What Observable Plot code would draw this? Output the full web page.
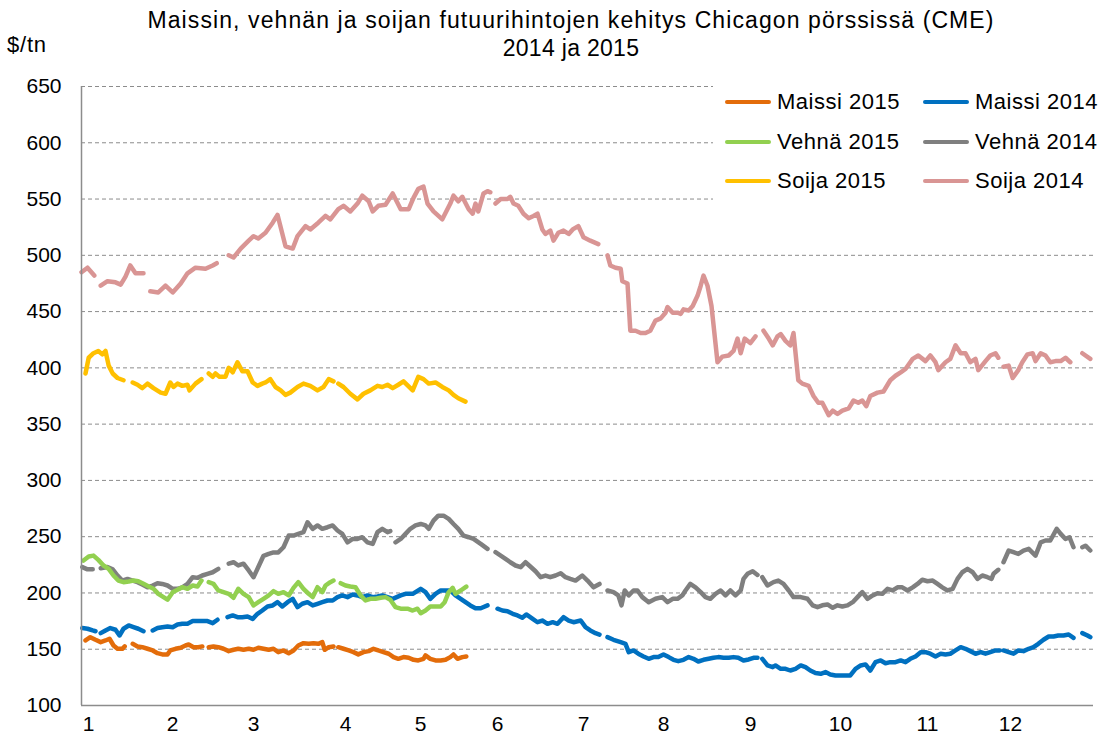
<!DOCTYPE html>
<html>
<head>
<meta charset="utf-8">
<script src="https://cdn.jsdelivr.net/npm/d3@7"></script>
<script src="https://cdn.jsdelivr.net/npm/@observablehq/plot@0.6"></script>
<style>
  html, body { margin: 0; padding: 0; background: #fff; overflow: hidden; }
  #wrap { position: relative; width: 1099px; height: 743px; font-family: "Liberation Sans", Arial, sans-serif; color: #000; }
  #title { position: absolute; left: 43px; width: 1056px; top: 6px; text-align: center; font-size: 23px; line-height: 28px; }
  #title .l1 { letter-spacing: 1.1px; }
  #title .l2 { letter-spacing: 0.3px; }
  #unit { position: absolute; left: 7px; top: 32px; font-size: 22px; letter-spacing: 0.8px; }
  #legend { position: absolute; left: 713px; top: 84px; width: 384px; height: 120px; background: #fff; }
  .item { position: absolute; font-size: 22px; line-height: 24px; white-space: nowrap; letter-spacing: 0.5px; }
  .item span.sw { display: inline-block; width: 46px; height: 4px; border-radius: 2px; vertical-align: middle; margin-right: 6px; position: relative; top: -1px; }
</style>
</head>
<body>
<div id="wrap">
  <div id="chart"></div>
  <div id="title"><span class="l1">Maissin, vehnän ja soijan futuurihintojen kehitys Chicagon pörssissä (CME)</span><br><span class="l2">2014 ja 2015</span></div>
  <div id="unit">$/tn</div>
  <div id="legend"></div>
</div>
<script>
// x = trading-day index within the year, y = $/tn
const monthTicks = [1.75, 22.75, 43, 66, 84.75, 104, 125.5, 145.5, 167.25, 189.75, 211.5, 232.25];
const monthLabels = ["1","2","3","4","5","6","7","8","9","10","11","12"];
const yTicks = [100,150,200,250,300,350,400,450,500,550,600,650];

const seriesNames = ["Maissi 2015","Maissi 2014","Vehnä 2015","Vehnä 2014","Soija 2015","Soija 2014"];
const seriesColors = ["#E36C0A","#0070C0","#92D050","#7F7F7F","#FFC000","#D99594"];

const soija2014 = [[0,485],[1.5,489],[3.2,482],null,[4.8,473],[6.5,477],[8.5,476],[9.8,474],[11,481],[12.2,491],[13.5,484],[15.5,484],null,
[17.2,468],[19.2,467],[21,473],[22.8,467],[24.8,475],[26.5,484],[28.5,489],[31,488],[32.8,491],[33.8,493],null,
[36.8,500],[38,498],[39.8,506],[41.8,513],[43,517],[44.2,515],[46,520],[47.8,529],[49,536],[51,508],[52.8,506],[54,517],[56,526],[57.2,523],[59.2,529],[61,535],[62.2,532],[64.2,541],[65.5,544],[67.2,539],[69,546],[70.2,553],[71.8,548],[72.8,539],[74.2,544],[76,545],[77.8,555],[79.8,541],[81.8,541],[83,551],[84.2,559],[85.5,561],[86.5,546],[88,539],[90.2,532],[92.2,546],[93,553],[94.2,548],[95.2,552],[96.8,541],[97.8,537],[98.5,546],[99.2,539],[100.5,555],[101.5,557],[102.2,556],null,
[103.5,546],[104.8,550],[106.5,550],[107.2,552],[108,546],[109.2,544],[110.5,537],[111.8,533],[113,535],[114,537],[115.2,523],[116,519],[117.2,522],[118,513],[119.2,520],[120.5,522],[121.8,519],[122.8,523],[124.2,526],[125.5,516],[127.2,513],[129.2,510],null,
[131.5,500],[132.2,491],[133.5,489],[134.8,488],[135.2,477],[136.5,475],[137.2,433],[138.5,433],[139.8,431],[141,431],[142.2,433],[143.5,442],[144.8,444],[146,449],[146.5,454],[147.8,449],[149,449],[149.8,448],[150.5,452],[151.8,451],[152.8,455],[154,464],[154.8,473],[155.5,482],[156.5,473],[157.5,455],[159,405],[160.2,410],[161.8,411],[163,415],[164,426],[164.8,413],[165.8,426],[167.2,422],[168.5,428],null,
[170.5,433],[171.8,426],[172.8,420],[174,428],[174.8,430],[176,424],[177.2,420],[178,431],[179.2,389],[180.2,386],[181.8,384],[183,375],[184.2,369],[185.2,369],[186.8,358],[187.8,362],[189,359],[190.2,362],[191.8,364],[193,371],[194.2,369],[195.2,371],[196.2,366],[197.2,375],[199,378],[200.5,379],[202.2,389],[203.5,393],[204.8,396],[206,399],[207.8,408],[209.2,411],[211,406],[212.2,411],[213.5,405],[214.2,398],[216,405],[217.2,408],[218.5,420],[219.8,413],[221,413],[222.2,405],[223.5,408],[224.2,398],[226,406],[227.2,411],[228.5,413],[229.2,409],null,
[230.5,401],[231.8,402],[232.8,391],[234.2,398],[235.2,405],[236.5,412],[237.8,413],[238.5,406],[239.8,413],[241,411],[242.2,405],[243.5,406],[244.8,406],[246,409],[247.2,405],null,
[250.2,413],[252.2,408]];

const soija2015 = [[1,395],[1.8,409],[3,413],[4.2,415],[5.2,412],[6,415],[6.8,402],[7.8,395],[9,391],[10.5,389],null,
[12.8,387],[14,385],[15.2,382],[16.5,386],[18,382],[19.8,378],[21,377],[22.2,387],[23,383],[24,386],[25.2,384],[26.5,385],[27,380],[28.5,386],[30,390],null,
[31.8,395],[32.8,392],[33.5,395],[34.5,392],[36,392],[36.8,400],[37.8,396],[39,405],[40.2,397],[41.5,397],[42.8,387],[44,384],[45.2,386],[46,387],[47.2,390],[48.5,383],[49.8,380],[51,376],[52.2,378],[54,383],[55.5,386],[57.2,384],[59,380],[60.5,383],[61.8,390],[63,388],null,
[64.2,386],[65.5,383],[67.2,377],[69,372],[70.5,377],[72.2,380],[74,384],[75.2,383],[76.5,385],[77.8,382],[79.2,385],[80.5,388],[82.8,380],[84.2,392],[85.5,390],[86.8,386],[88.5,387],[90.2,383],[91.8,380],[93,376],[94.2,373],[96,370]];

const vehna2014 = [[0.2,223],[1.5,221],[2.8,221],null,[4.8,222],[6.5,223],[7.8,221],[9,215.5],[10.2,211],[11.5,212.5],[12.8,211],[14,209.6],[15.2,207.5],[16.5,205],[17.8,206.6],[19,208.7],[20.2,208],[21.5,206.6],[22.8,203.7],[24,203.7],[25.2,205],[26.5,208],[27.8,214],[29,213.4],[30.2,215.5],[31.5,217],[32.8,218.4],[34.2,221.4],null,
[36.8,226],[38,227.3],[39.2,224.4],[40.5,226],[41.8,220],[43,214],[44.2,223],[45.5,233],[46.8,234.7],[48,236],[49.2,236],[50.5,240.6],[51.8,251],[53,251],[54.2,252.5],[55.5,254],[56.5,262.8],[57.8,257],[59,260],[60.2,257],[61.5,258.4],[62.8,260],[64,255.5],[65.2,252.5],[66.5,245],[67.8,248],[69,248],[70.2,249.5],[71.5,245],[72.8,243.6],[74,254],[75.2,257],[76.5,254],[77.2,255],null,
[78.5,245],[79.8,248],[81,252.5],[82.2,257],[83.5,260],[84.8,261.3],[86,260],[86.8,257],[88,264.3],[89.2,268.7],[90.5,268.7],[91.8,265.8],[93,261.3],[94.2,257],[95.5,251],[96.8,249.5],[98,248],[99.8,243.6],[101.5,239.2],null,
[103.5,236.2],[104.8,233.2],[106,230.3],[107.2,227.3],[108.5,224.4],[109.8,222.9],[111,227.3],[112.2,223.5],[113.5,219.3],[114.8,214],[116,215.5],[117.2,214],[118.5,215.5],[119.8,217.5],[121,214],[122.2,212.5],[123.5,211],[125.2,215.5],[126.5,211],[128,205],[129.5,208],null,
[131.5,202.2],[133,200.7],[134.2,197.8],[135,189],[135.8,202.2],[136.8,197.8],[138,202.2],[139,202.2],[140.2,196.3],[141.8,191.8],[143.5,194.8],[145.2,196.3],[146.5,191.8],[147.8,194.8],[149,194.8],[150.2,197.8],[151,202.2],[152.2,208],[153.5,205],[154.8,200.7],[156,196.3],[157.2,194.8],[158.5,199.2],[159.8,202.2],[161,197.8],[162.2,202.2],[163.5,197.8],[164.8,202.2],[165.5,212.5],[166.5,217],[167.8,219.3],[169,216],null,
[170.2,214],[171.5,206.6],[173,209.6],[174.2,211],[175.5,208],[176.8,202.2],[178,196.3],[179.8,196.3],[181.5,194.8],[182.8,189],[184,187.4],[185.2,189],[186.5,189.8],[187.8,186.8],[189,189],[190.2,188],[191.5,189],[192.8,191.8],[194,196.3],[195.2,200.7],[196.5,194.8],[197.8,197.8],[199,199.8],[200.2,199.2],[201.5,203.7],[202.8,202.2],[204,205],[205.2,205],[206.5,202.2],[207.8,205],[209,208],[210.2,211.7],[211.5,210.4],[212.8,211],[214,208],[215.2,205],[216.5,202.2],[217.8,203.7],[219,212.5],[220.2,218.4],[221.5,221.4],[222.8,218.4],[224,212.5],[225.2,215.5],[226.5,214],[227.5,212.5],[228,217],[229.2,220.6],null,
[230.5,227.3],[231.8,237.7],[233,236.2],[234.2,234.7],[235.5,237.7],[236.8,239.2],[238.5,233.2],[239.8,245],[241,246.6],[242.2,246.6],[243.8,257],[244.8,252.5],[246,248],[247,249.5],[248,240.6],null,
[250.2,240.6],[251,242],[252.2,237.7]];

const vehna2015 = [[0.5,228.8],[1.8,232.4],[3,233.2],[4.2,229.4],[5.5,224.4],[6.8,221.4],[8,215.5],[9.2,211],[10.5,209.6],[11.8,210.2],[13,211],[14.2,210.4],[15.5,208.1],[16.8,205.7],[18,203.7],[19.2,199.2],[20.5,196.3],[21.5,194],[22.8,200.7],[24,202.8],[25.2,205.1],[26.5,203.7],[27.8,206.6],[29,205.7],[30,211],null,
[31.8,209.6],[33,208.1],[34.2,202.2],[35.5,200.7],[36.8,199.2],[38,195.7],[39.2,203.7],[40.5,199.2],[41.8,196.3],[43,188.9],[44.2,191.8],[45.5,194.8],[46.8,197.8],[48,201.6],[49.2,199.2],[50.5,200.7],[51.8,197.8],[53,204.5],[54.2,209.6],[55.5,203.7],[56.8,199.2],[57.8,196.3],[59,205.1],[60.2,200.7],[61,206.6],[62.2,209.6],[63,211],null,
[64.8,208.7],[66,206.6],[67.2,205.7],[68.5,205.1],[69.8,197.8],[71,193.3],[72.2,194.8],[73.5,194.8],[74.8,195.7],[76,196.3],[77.2,194],[78.5,187.4],[79.8,186],[81.5,186],[82.8,184.4],[84,186],[84.8,182],[86,184.4],[87.2,188],[88.5,188],[89.8,188],[90.8,191.8],[91.8,200.7],[92.8,204.5],[93.5,199.2],[94.8,202.2],[96.2,205.7]];

const maissi2014 = [[0.2,168.8],[1.5,168.2],[2.8,166.7],[3.5,166],null,[4.8,164.3],[6,166.7],[7.2,168.8],[8.5,167.3],[9.5,162.2],[10.5,168.2],[11.8,171.1],[13,169.6],[14.2,168.2],[15.5,166],null,
[17.8,166.7],[19,168.8],[20.2,169.6],[21.5,170.2],[22.8,169.6],[24,172],[25.2,172.6],[26.5,172.6],[27.8,175],[29,175],[30.2,175],[31.5,175],[32.8,173.2],[34,176.2],null,
[36.5,178.5],[37.8,180],[39,178.5],[40.2,178.5],[41.5,179.1],[42.8,177],[44,181.5],[45.2,184.4],[46.5,188],[47.8,188.9],[49,191.8],[50.2,188],[51.5,191.8],[52.8,194.8],[54,187.4],[55.2,190.4],[56.5,191.8],[57.8,188.9],[59,190.4],[60.2,191.8],[61.5,193.3],[62.8,193.3],[64,196.3],[65.2,197.8],[66.5,196.3],[67.8,198.6],[69,197.8],[70.2,196.3],[71.5,197.8],[72.8,196.3],[74,196.9],[75.2,197.8],[77.8,194.8],[79.8,197.8],[81,199.2],[82.8,199.2],[84.8,203.7],[86,200.7],[87.2,194.8],[88.5,199.2],[89.8,202.2],[91,202.2],[92.2,202.2],[93.5,197.8],[94.8,194.8],[96,191.8],[97.2,188.9],[98.5,186.4],[99.8,186.4],[101.5,188.9],null,
[104,186],[105.2,184.4],[106.5,183.8],[107.8,181.5],[109,180],[110.2,178],[111.2,180.9],[112.8,177],[114,174],[115.2,175.5],[116.5,172.6],[117.8,174],[119,172.6],[120.5,178.5],[121.8,175.5],[123,174],[124.8,175.5],[126,169.6],[127.2,166.7],[128.5,164.3],[129.5,163],null,
[131.5,160.7],[133,158.4],[134.8,156.3],[136,154.8],[136.8,147.4],[138,148.9],[139.2,146],[140.5,143.6],[141.8,141.5],[143,143],[144.2,143],[145.5,145.4],[146.8,143],[148,140.6],[149.2,139.4],[150.5,140.6],[151.8,143],[153,141.5],[154.2,139.1],[155.5,140.6],[156.8,141.5],[158,142.4],[159.2,143],[160.5,142.4],[161.8,142.4],[163,143],[164.2,142.4],[165.5,140],[166.8,140.9],[168,142.4],[169,142.4],null,
[170.2,141.5],[171.5,135.6],[172.8,134.1],[173.5,135.6],[174.8,132.6],[176,132.6],[177.2,131.1],[178.5,132.6],[179.8,135.6],[181,134.1],[182.2,131.1],[183.5,128.8],[184.8,128.2],[186,129.7],[187.2,127.6],[188.5,126.7],[189.8,126.7],[191,126.7],[192.2,126.7],[193.5,132.6],[194.8,135.6],[196,136.5],[197.2,131.1],[198.5,138.5],[199.8,140],[201,137.6],[202.2,138.5],[203.5,138.5],[204.8,140],[206,138.5],[207.2,141.5],[208.5,143.6],[209.8,147.4],[211,147.4],[212.2,146],[213.5,143.6],[214.8,146],[216,145.4],[217.2,146],[218.5,148.9],[219.8,151.8],[221,150.4],[222.2,148.3],[223.5,146],[224.8,147.4],[226,146],[227.2,147.4],[228.5,148.9],[229.5,148.9],null,
[230.5,148.9],[231.8,147.4],[233,146],[234.2,148.9],[235.5,148.3],[236.8,150.4],[238,151.8],[239.2,154.8],[240.5,158.4],[241.8,161.3],[243,161.3],[244.2,162.2],[245.5,162.2],[246.8,163.1],[248,160.1],null,
[250.2,164.3],[251.5,162.2],[252.2,160.7]];

const maissi2015 = [[1,157.8],[2.2,160.7],[3.5,158.4],[4.8,156.3],[6,157.8],[7,159.3],[8,153.3],[9,150.4],[10.2,150.4],[10.8,152.5],null,
[12.8,154.8],[14,152.5],[15.2,151.8],[16.5,150.4],[17.8,148.9],[19,146.5],[20.2,145.4],[21.5,145.4],[22.2,148.9],[23.5,150.4],[24.8,151.3],[26,153.3],[26.8,154.2],[28,151.8],[29.2,151.8],[30.2,152.5],null,
[31.8,151.8],[33,152.5],[34.2,151.8],[35.5,150.4],[36.8,148.3],[38,149.5],[39.2,150.4],[40.5,149.5],[41.8,150.4],[43,149.5],[44.2,151.3],[45.5,150.4],[46.8,149.5],[48,150.4],[49.2,147.4],[50.5,148.9],[51.8,146.5],[53,148.9],[54.2,153.3],[55.5,155.4],[56.8,154.8],[58,155.4],[59.2,154.8],[60.2,156.3],[60.8,149.5],[61.8,151.8],[63,152.5],null,
[64.2,151.8],[65.5,150.4],[66.8,148.9],[68,147.4],[69.2,145.4],[70.5,147.4],[71.8,148.3],[73,150.4],[74.2,148.9],[75.5,147.4],[76.8,146],[78,143],[79.2,141.5],[80.5,143],[81.8,142.4],[83,140.6],[84.2,140],[85.5,141.5],[86,144.5],[87.2,141.5],[88.5,140],[89.8,140],[91,140.6],[92.2,143],[93,145.4],[94,141.5],[95.2,143],[96.2,143.6]];

// drawing order: 2014 first, 2015 on top
const drawOrder = [
  ["Soija 2014", soija2014], ["Vehnä 2014", vehna2014], ["Maissi 2014", maissi2014],
  ["Soija 2015", soija2015], ["Vehnä 2015", vehna2015], ["Maissi 2015", maissi2015]
];

const rows = [];
for (const [name, arr] of drawOrder) {
  for (const p of arr) {
    if (p === null) rows.push({series: name, x: NaN, y: NaN});
    else rows.push({series: name, x: p[0], y: p[1]});
  }
}

const chart = Plot.plot({
  width: 1099,
  height: 743,
  marginTop: 86,
  marginBottom: 38,
  marginLeft: 81,
  marginRight: 6,
  style: {fontFamily: "'Liberation Sans', Arial, sans-serif", fontSize: "21px", color: "#000", background: "#fff"},
  x: {domain: [0, 253]},
  y: {domain: [100, 650]},
  color: {domain: seriesNames, range: seriesColors},
  marks: [
    Plot.ruleY(yTicks.filter(d => d > 100), {stroke: "#8c8c8c", strokeWidth: 1, strokeDasharray: "4,3"}),
    Plot.axisY({ticks: yTicks, tickSize: 0, tickPadding: 20, label: null, fontSize: 21}),
    Plot.axisX({ticks: monthTicks, tickFormat: (d, i) => monthLabels[i], tickSize: 0, tickPadding: 11, label: null, fontSize: 21}),
    Plot.line(rows, {x: "x", y: "y", z: "series", stroke: "series", strokeWidth: 4.5, strokeLinejoin: "round", strokeLinecap: "round", curve: "linear"}),
    Plot.ruleX([0], {stroke: "#8c8c8c", strokeWidth: 1.5}),
    Plot.ruleY([100], {stroke: "#8c8c8c", strokeWidth: 1.5})
  ]
});
document.getElementById("chart").appendChild(chart);

// legend (two columns, three rows)
const legendOrder = ["Maissi 2015","Maissi 2014","Vehnä 2015","Vehnä 2014","Soija 2015","Soija 2014"];
const leg = document.getElementById("legend");
legendOrder.forEach((name, i) => {
  const col = i % 2, row = Math.floor(i / 2);
  const div = document.createElement("div");
  div.className = "item";
  div.style.left = (12 + col * 198) + "px";
  div.style.top = (6 + row * 39.5) + "px";
  const sw = document.createElement("span");
  sw.className = "sw";
  sw.style.background = seriesColors[seriesNames.indexOf(name)];
  div.appendChild(sw);
  div.appendChild(document.createTextNode(name));
  leg.appendChild(div);
});
</script>
</body>
</html>
